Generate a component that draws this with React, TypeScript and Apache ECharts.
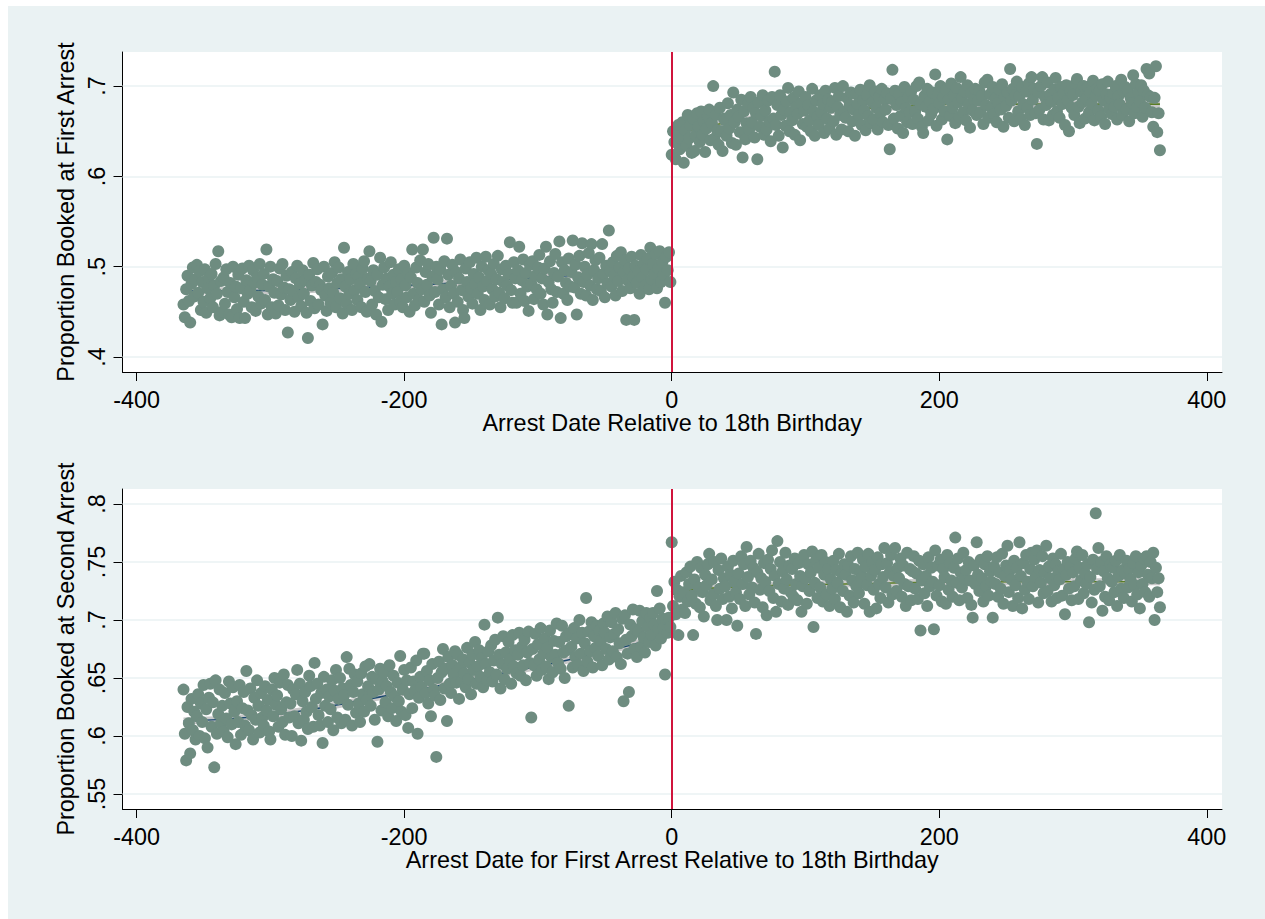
import React, { useEffect, useRef } from "react";
import * as echarts from "echarts";

const FONT = "'Liberation Sans', Arial, Helvetica, sans-serif";
const BG = "#eaf2f3";
const MARKER = "#6e8c80";
const NAVY = "#1a476f";
const GREEN = "#5a7d25";
const BAND = "#c8c8c8";
const RED = "#d0143c";

const xTicks = [-400, -200, 0, 200, 400];
const yTicksFirst = [0.4, 0.5, 0.6, 0.7];
const yTicksSecond = [0.55, 0.6, 0.65, 0.7, 0.75, 0.8];

// Proportion booked at first arrest (thousandths), days -365 .. -1
const firstBefore = [
  458, 444, 475, 490, 462, 438, 481, 499, 467, 486,
  502, 471, 495, 452, 483, 461, 497, 449, 476, 488,
  465, 492, 455, 479, 503, 470, 517, 446, 484, 450,
  488, 459, 497, 472, 447, 482, 444, 500, 466, 478,
  453, 491, 443, 476, 498, 461, 443, 485, 470, 501,
  474, 455, 496, 482, 451, 488, 467, 503, 459, 480,
  492, 463, 519, 447, 478, 500, 455, 486, 471, 448,
  484, 457, 498, 469, 503, 477, 452, 490, 427, 475,
  463, 494, 473, 450, 487, 501, 466, 481, 456, 496,
  470, 485, 449, 421, 491, 462, 479, 504, 454, 483,
  497, 458, 480, 474, 436, 500, 468, 451, 489, 476,
  460, 493, 471, 505, 455, 482, 499, 465, 486, 448,
  521, 478, 459, 494, 470, 486, 452, 503, 474, 492,
  463, 489, 481, 455, 498, 506, 472, 450, 487, 517,
  484, 458, 496, 473, 447, 491, 466, 510, 439, 480,
  499, 464, 487, 452, 478, 505, 470, 491, 458, 483,
  472, 497, 461, 486, 455, 501, 479, 466, 493, 450,
  488, 519, 470, 457, 499, 482, 463, 507, 475, 519,
  461, 494, 480, 503, 468, 449, 489, 532, 472, 500,
  486, 458, 497, 436, 475, 506, 466, 531, 491, 455,
  479, 502, 470, 438, 494, 461, 487, 508, 474, 452,
  443, 498, 483, 467, 505, 476, 459, 492, 481, 510,
  470, 488, 452, 500, 478, 463, 511, 484, 496, 458,
  492, 475, 503, 467, 486, 512, 471, 455, 497, 483,
  465, 501, 479, 492, 527, 474, 460, 505, 487, 460,
  496, 522, 470, 485, 508, 462, 493, 478, 451, 502,
  481, 506, 464, 490, 475, 499, 513, 470, 487, 458,
  498, 522, 447, 483, 506, 475, 460, 493, 514, 472,
  489, 528, 443, 505, 470, 496, 482, 463, 509, 478,
  494, 529, 477, 502, 447, 488, 512, 470, 526, 483,
  500, 468, 491, 515, 479, 525, 463, 496, 507, 475,
  487, 510, 473, 525, 492, 466, 501, 481, 540, 496,
  478, 505, 490, 468, 512, 484, 499, 516, 473, 494,
  507, 441, 485, 498, 476, 511, 489, 441, 501, 482,
  495, 470, 513, 488, 503, 479, 497, 509, 475, 521,
  486, 503, 492, 514, 476, 498, 517, 483, 505, 491,
  460, 511, 496, 516, 483,
];

// days 0 .. 365
const firstAfter = [
  624, 650, 638, 619, 645, 657, 630, 642, 660, 615,
  651, 634, 668, 642, 657, 626, 664, 628, 646, 670,
  655, 638, 672, 646, 661, 627, 653, 667, 674, 640,
  659, 700, 642, 668, 651, 635, 676, 650, 628, 664,
  662, 645, 681, 653, 668, 637, 693, 660, 635, 674,
  666, 649, 685, 621, 672, 641, 659, 680, 652, 688,
  660, 676, 643, 670, 619, 682, 655, 667, 690, 646,
  673, 652, 684, 661, 639, 688, 664, 716, 657, 679,
  645, 690, 668, 632, 674, 656, 683, 698, 650, 671,
  662, 687, 646, 677, 669, 694, 640, 681, 658, 673,
  688, 655, 679, 662, 650, 697, 672, 645, 684, 666,
  657, 690, 671, 680, 648, 695, 664, 685, 653, 676,
  683, 661, 698, 646, 677, 689, 668, 652, 700, 672,
  665, 687, 650, 679, 693, 661, 674, 645, 691, 680,
  668, 696, 657, 684, 673, 651, 690, 667, 701, 659,
  682, 663, 694, 676, 652, 688, 670, 697, 660, 685,
  674, 692, 657, 630, 686, 718, 664, 695, 679, 653,
  691, 667, 682, 648, 699, 676, 660, 688, 671, 694,
  658, 685, 672, 700, 664, 704, 680, 655, 648, 689,
  677, 697, 662, 683, 669, 693, 675, 713, 656, 690,
  681, 700, 663, 688, 672, 696, 641, 685, 667, 703,
  676, 690, 659, 698, 682, 666, 710, 687, 671, 694,
  662, 701, 680, 654, 692, 673, 686, 697, 668, 684,
  695, 671, 689, 658, 704, 679, 707, 665, 691, 676,
  699, 669, 686, 660, 681, 696, 674, 702, 655, 688,
  678, 693, 665, 719, 684, 697, 661, 690, 705, 672,
  689, 664, 699, 680, 657, 694, 676, 703, 668, 710,
  685, 697, 670, 636, 693, 674, 700, 710, 663, 688,
  679, 704, 662, 691, 683, 668, 696, 709, 672, 687,
  665, 699, 680, 692, 657, 701, 684, 650, 695, 676,
  690, 668, 703, 708, 677, 659, 694, 682, 700, 664,
  686, 699, 671, 693, 680, 706, 662, 689, 697, 673,
  695, 666, 702, 684, 658, 691, 705, 675, 687, 669,
  692, 677, 700, 663, 689, 680, 707, 668, 694, 699,
  674, 696, 661, 687, 681, 712, 670, 702, 677, 693,
  683, 701, 666, 695, 676, 719, 690, 714, 688, 671,
  655, 687, 722, 649, 670, 629,
];

// Proportion booked at second arrest (thousandths), days -365 .. -1
const secondBefore = [
  640, 602, 579, 625, 611, 585, 632, 605, 621, 597,
  617, 636, 600, 628, 612, 644, 598, 623, 590, 633,
  645, 608, 629, 573, 648, 602, 619, 640, 611, 626,
  604, 637, 615, 599, 647, 628, 610, 642, 621, 593,
  630, 612, 644, 601, 624, 638, 609, 656, 622, 605,
  641, 618, 597, 633, 614, 648, 626, 603, 637, 616,
  609, 643, 622, 631, 604, 597, 640, 617, 650, 627,
  635, 608, 646, 623, 612, 653, 601, 629, 644, 616,
  628, 600, 640, 617, 636, 657, 611, 645, 596, 630,
  614, 638, 621, 606, 652, 643, 625, 608, 663, 632,
  645, 618, 609, 637, 594, 651, 626, 640, 612, 634,
  623, 648, 605, 639, 657, 616, 632, 650, 611, 641,
  635, 614, 668, 627, 658, 644, 609, 638, 653, 620,
  647, 628, 612, 654, 636, 621, 660, 631, 643, 662,
  626, 651, 638, 614, 649, 595, 640, 658, 622, 647,
  655, 629, 643, 617, 661, 638, 624, 652, 634, 613,
  646, 630, 669, 621, 640, 657, 618, 648, 607, 636,
  659, 624, 647, 639, 665, 602, 633, 651, 642, 671,
  671, 637, 656, 628, 648, 617, 662, 640, 635, 582,
  650, 664, 631, 655, 675, 641, 658, 613, 668, 645,
  637, 661, 653, 673, 646, 670, 632, 659, 647, 666,
  654, 642, 676, 649, 663, 636, 670, 657, 681, 645,
  660, 674, 651, 667, 642, 696, 662, 648, 673, 655,
  678, 647, 665, 683, 653, 702, 670, 641, 662, 686,
  649, 672, 658, 681, 666, 645, 687, 660, 674, 654,
  670, 689, 652, 677, 661, 683, 648, 672, 690, 663,
  616, 675, 661, 688, 652, 679, 666, 693, 657, 671,
  684, 660, 676, 649, 691, 668, 655, 682, 670, 697,
  663, 681, 658, 695, 672, 650, 686, 674, 626, 689,
  677, 659, 693, 668, 684, 661, 700, 671, 689, 656,
  680, 719, 664, 690, 673, 698, 659, 686, 676, 695,
  669, 691, 682, 661, 697, 689, 675, 703, 666, 685,
  698, 673, 688, 706, 668, 692, 680, 662, 701, 630,
  704, 683, 671, 638, 696, 686, 709, 675, 692, 668,
  690, 708, 677, 699, 685, 672, 706, 694, 681, 702,
  687, 706, 696, 678, 725, 692, 710, 684, 701, 693,
  653, 701, 689, 702, 694,
];

// days 0 .. 365
const secondAfter = [
  767, 712, 733, 705, 726, 687, 720, 738, 709, 724,
  706, 741, 716, 731, 746, 721, 687, 735, 714, 750,
  728, 711, 745, 724, 703, 739, 730, 748, 757, 717,
  735, 722, 750, 712, 700, 743, 727, 753, 718, 736,
  729, 700, 746, 720, 739, 710, 751, 733, 724, 695,
  740, 718, 755, 731, 748, 712, 763, 737, 722, 751,
  728, 745, 715, 688, 741, 757, 726, 736, 711, 749,
  733, 704, 752, 725, 744, 760, 719, 738, 707, 768,
  731, 750, 716, 742, 727, 758, 735, 713, 747, 724,
  744, 720, 753, 731, 717, 749, 738, 707, 729, 756,
  736, 714, 748, 725, 741, 759, 694, 732, 752, 719,
  745, 728, 756, 716, 739, 750, 722, 744, 712, 735,
  727, 751, 718, 743, 732, 757, 711, 740, 725, 748,
  739, 707, 747, 721, 755, 734, 715, 744, 729, 758,
  723, 741, 736, 752, 714, 746, 730, 757, 707, 738,
  750, 726, 743, 710, 754, 731, 719, 748, 737, 762,
  728, 749, 715, 741, 756, 722, 738, 762, 725, 745,
  736, 753, 720, 747, 731, 712, 758, 729, 744, 717,
  742, 755, 727, 740, 718, 751, 691, 734, 748, 723,
  738, 712, 754, 729, 745, 733, 692, 760, 721, 747,
  730, 752, 716, 744, 737, 714, 756, 726, 749, 734,
  720, 745, 771, 732, 753, 717, 741, 728, 758, 736,
  743, 719, 750, 734, 713, 702, 747, 731, 767, 739,
  725, 752, 736, 716, 748, 729, 755, 721, 742, 733,
  702, 746, 731, 754, 720, 741, 727, 757, 714, 738,
  747, 764, 724, 743, 735, 712, 751, 730, 745, 719,
  767, 738, 710, 749, 726, 756, 733, 718, 744, 758,
  729, 752, 737, 760, 715, 743, 732, 755, 723, 741,
  764, 725, 746, 736, 716, 753, 730, 748, 719, 742,
  735, 757, 721, 744, 705, 739, 750, 727, 746, 717,
  741, 729, 753, 759, 718, 745, 734, 756, 723, 740,
  731, 748, 698, 737, 715, 752, 726, 792, 744, 762,
  729, 750, 708, 742, 720, 755, 736, 717, 748, 733,
  745, 724, 751, 712, 738, 756, 727, 743, 719, 740,
  751, 728, 744, 735, 716, 749, 730, 755, 722, 741,
  710, 747, 731, 753, 724, 755, 739, 720, 750, 736,
  758, 700, 745, 724, 736, 711,
];

// local polynomial fits
const fitFirstBeforeX = [-365, -290, -200, -150, -90, -1];
const fitFirstBeforeY = [0.473, 0.474, 0.479, 0.483, 0.489, 0.497];
const fitFirstAfterX = [0, 28, 80, 165, 240, 365];
const fitFirstAfterY = [0.645, 0.656, 0.667, 0.677, 0.68, 0.68];
const fitSecondBeforeX = [-365, -300, -226, -136, -60, -1];
const fitSecondBeforeY = [0.613, 0.618, 0.632, 0.652, 0.67, 0.688];
const fitSecondAfterX = [0, 23, 148, 260, 365];
const fitSecondAfterY = [0.722, 0.727, 0.7315, 0.733, 0.733];

const FS = 23.4;

function toPoints(vals: number[], start: number) {
  return vals.map((v, i) => [start + i, v / 1000]);
}
function zipXY(xs: number[], ys: number[]) {
  return xs.map((x, i) => [x, ys[i]]);
}
const fmtY = (v: number) => String(Math.round(v * 1000) / 1000).replace(/^0/, "");

function makePanel(
  idx: number,
  top: number,
  yMin: number,
  yMax: number,
  yTicks: number[],
  yName: string,
  xName: string,
  before: number[],
  after: number[],
  fitB: number[][],
  fitA: number[][]
) {
  const grid = {
    left: 114.5,
    top,
    width: 1099.5,
    height: 320,
    show: true,
    backgroundColor: "#ffffff",
    borderWidth: 0,
  };
  const xAxis = {
    type: "value",
    gridIndex: idx,
    min: -410.6,
    max: 411.4,
    name: xName,
    nameLocation: "middle",
    nameGap: 39,
    nameTextStyle: { fontFamily: FONT, fontSize: FS, color: "#000" },
    axisLine: { show: true, onZero: false, lineStyle: { color: "#000", width: 1 } },
    axisTick: { show: true, length: 9, customValues: xTicks, lineStyle: { color: "#000", width: 1 } },
    axisLabel: {
      customValues: xTicks,
      margin: 16,
      fontFamily: FONT,
      fontSize: FS,
      color: "#000",
      formatter: (v: number) => String(v),
    },
    splitLine: { show: false },
  };
  const yAxis = {
    type: "value",
    gridIndex: idx,
    min: yMin,
    max: yMax,
    name: yName,
    nameLocation: "middle",
    nameRotate: 90,
    nameGap: 43,
    nameTextStyle: { fontFamily: FONT, fontSize: FS, color: "#000" },
    axisLine: { show: true, onZero: false, lineStyle: { color: "#000", width: 1 } },
    axisTick: { show: true, length: 9, customValues: yTicks, lineStyle: { color: "#000", width: 1 } },
    axisLabel: {
      customValues: yTicks,
      rotate: 90,
      margin: 14,
      fontFamily: FONT,
      fontSize: FS,
      color: "#000",
      formatter: fmtY,
    },
    splitLine: { show: false },
  };
  const lineCommon = {
    type: "line",
    xAxisIndex: idx,
    yAxisIndex: idx,
    smooth: true,
    symbol: "none",
    silent: true,
  };
  const series: any[] = [
    {
      ...lineCommon,
      z: 1,
      data: fitB,
      lineStyle: { color: BAND, width: 7 },
      markLine: {
        z: 1,
        silent: true,
        symbol: ["none", "none"],
        label: { show: false },
        lineStyle: { color: BG, width: 1.5, type: "solid" },
        emphasis: { disabled: true },
        data: yTicks.map((t) => ({ yAxis: t })),
      },
    },
    { ...lineCommon, z: 1, data: fitA, lineStyle: { color: BAND, width: 7 } },
    { ...lineCommon, z: 2, data: fitB, lineStyle: { color: NAVY, width: 1.6 } },
    { ...lineCommon, z: 2, data: fitA, lineStyle: { color: GREEN, width: 1.6 } },
    {
      type: "scatter",
      xAxisIndex: idx,
      yAxisIndex: idx,
      z: 3,
      symbol: "circle",
      symbolSize: 12,
      itemStyle: { color: MARKER, opacity: 1 },
      silent: true,
      data: [...toPoints(before, -365), ...toPoints(after, 0)],
      markLine: {
        z: 6,
        silent: true,
        symbol: ["none", "none"],
        label: { show: false },
        lineStyle: { color: RED, width: 2, type: "solid" },
        emphasis: { disabled: true },
        data: [{ xAxis: 0 }],
      },
    },
  ];
  return { grid, xAxis, yAxis, series };
}

export default function App() {
  const ref = useRef<HTMLDivElement>(null);
  useEffect(() => {
    if (!ref.current) return;
    const chart = echarts.init(ref.current, null, { renderer: "svg" });
    const p1 = makePanel(
      0,
      46,
      0.3833,
      0.7378,
      yTicksFirst,
      "Proportion Booked at First Arrest",
      "Arrest Date Relative to 18th Birthday",
      firstBefore,
      firstAfter,
      zipXY(fitFirstBeforeX, fitFirstBeforeY),
      zipXY(fitFirstAfterX, fitFirstAfterY)
    );
    const p2 = makePanel(
      1,
      483,
      0.5371,
      0.8129,
      yTicksSecond,
      "Proportion Booked at Second Arrest",
      "Arrest Date for First Arrest Relative to 18th Birthday",
      secondBefore,
      secondAfter,
      zipXY(fitSecondBeforeX, fitSecondBeforeY),
      zipXY(fitSecondAfterX, fitSecondAfterY)
    );
    chart.setOption({
      animation: false,
      backgroundColor: BG,
      textStyle: { fontFamily: FONT },
      grid: [p1.grid, p2.grid],
      xAxis: [p1.xAxis, p2.xAxis],
      yAxis: [p1.yAxis, p2.yAxis],
      series: [...p1.series, ...p2.series],
    });
    return () => chart.dispose();
  }, []);
  return (
    <div
      ref={ref}
      style={{ position: "absolute", left: 8, top: 6, width: 1257, height: 913 }}
    />
  );
}
